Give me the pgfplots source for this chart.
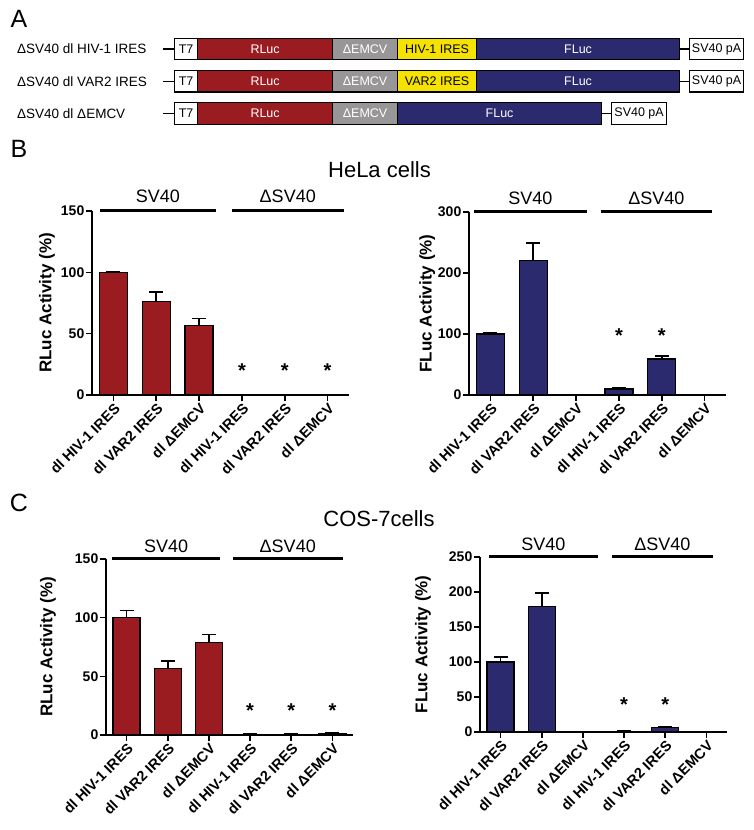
\documentclass[border=0pt]{standalone}
\usepackage{fontspec}
\setmainfont{Liberation Sans}
\usepackage{pgfplots}
\pgfplotsset{compat=1.18}
\definecolor{rl}{RGB}{155,28,32}
\definecolor{fl}{RGB}{43,42,110}
\definecolor{em}{RGB}{152,150,150}
\definecolor{ye}{RGB}{245,226,0}
\newcommand{\fs}[1]{\fontsize{#1}{#1}\selectfont}
\pgfplotsset{
  barax/.style={
    scale only axis, xmin=-0.5, xmax=5.5, ymin=0,
    axis x line=bottom, axis y line=left,
    axis line style={line width=1.6pt,-},
    every tick/.style={line width=1.6pt, black},
    tick align=outside, major tick length=6pt,
    xtick={0,...,5},
    xticklabels={dl HIV-1 IRES, dl VAR2 IRES, dl ΔEMCV, dl HIV-1 IRES, dl VAR2 IRES, dl ΔEMCV},
    xticklabel style={rotate=45, anchor=north east, font=\bfseries\fs{14.5}, inner sep=1pt},
    yticklabel style={font=\bfseries\fs{14}, inner sep=1.5pt},
    /pgf/number format/assume math mode=true,
    ybar, bar width=28pt,
    clip=false,
    error bars/y dir=plus, error bars/y explicit,
    error bars/error bar style={line width=1.6pt, black},
    error bars/error mark options={rotate=90, mark size=7pt, line width=1.6pt, black},
  },
  ylab/.style={ylabel style={at={(axis description cs:#1,0.5)}, rotate=0, anchor=center, font=\bfseries\fs{17}}},
}
\tikzset{
  box/.style={draw=black, line width=1.2pt, minimum height=21.5pt, inner sep=0pt, anchor=west, font=\fs{12.5}},
  grp/.style={line width=3pt},
  glab/.style={anchor=base, font=\fs{18}},
  ast/.style={font=\bfseries\fs{20}, anchor=center, yshift=-4pt},
}
\newcommand{\construct}[3]{%
  \node[anchor=west, font=\fs{13.5}, inner sep=0pt] at (17pt,#1pt) {#2};
  \draw[line width=1.2pt] (163pt,#1pt) -- (174pt,#1pt);
  \node[box, fill=white, minimum width=23pt] at (174pt,#1pt) {T7};
  \node[box, fill=rl, text=white, minimum width=135pt] at (197pt,#1pt) {RLuc};
  \node[box, fill=em, text=white, minimum width=65pt] at (332pt,#1pt) {ΔEMCV};
  \node[box, fill=ye, text=black, minimum width=79pt] at (397pt,#1pt) {#3};
  \node[box, fill=fl, text=white, minimum width=203pt] at (476pt,#1pt) {FLuc};
  \draw[line width=1.2pt] (679pt,#1pt) -- (689pt,#1pt);
  \node[box, fill=white, minimum width=54pt] at (689pt,#1pt) {SV40 pA};
}
\begin{document}
\begin{tikzpicture}
\useasboundingbox (0,0) rectangle (754pt,830pt);
% Panel letters and titles
\node[font=\fs{25}] at (19pt,811pt) {A};
\node[font=\fs{25}] at (19pt,681pt) {B};
\node[font=\fs{25}] at (19pt,327pt) {C};
\node[font=\fs{22}] at (379.5pt,660pt) {HeLa cells};
\node[font=\fs{22}] at (379pt,311pt) {COS-7cells};
% Panel A schematic
\construct{781}{ΔSV40 dl HIV-1 IRES}{HIV-1 IRES}
\construct{748.7}{ΔSV40 dl VAR2 IRES}{VAR2 IRES}
\node[anchor=west, font=\fs{13.5}, inner sep=0pt] at (17pt,716.4pt) {ΔSV40 dl ΔEMCV};
\draw[line width=1.2pt] (163pt,716.4pt) -- (174pt,716.4pt);
\node[box, fill=white, minimum width=23pt] at (174pt,716.4pt) {T7};
\node[box, fill=rl, text=white, minimum width=135pt] at (197pt,716.4pt) {RLuc};
\node[box, fill=em, text=white, minimum width=65pt] at (332pt,716.4pt) {ΔEMCV};
\node[box, fill=fl, text=white, minimum width=204pt] at (397pt,716.4pt) {FLuc};
\draw[line width=1.2pt] (601pt,716.4pt) -- (611pt,716.4pt);
\node[box, fill=white, minimum width=55pt] at (611pt,716.4pt) {SV40 pA};

% B left: RLuc HeLa
\begin{axis}[barax, at={(92pt,435pt)}, anchor=south west, width=257pt, height=184pt,
  ymax=150, ytick={0,50,100,150}, ylab=-0.175, ylabel={RLuc Activity (\%)}]
\addplot[fill=rl, draw=black, line width=1.3pt] table[x=x, y=y, y error=e] {
x y e
0 100 0.8
1 76.5 7.5
2 56.5 6
3 0.3 0
4 0.3 0
5 0.3 0
};
\draw[grp] (axis cs:-0.31,150) -- (axis cs:2.39,150);
\draw[grp] (axis cs:2.77,150) -- (axis cs:5.38,150);
\node[glab] at (axis cs:1.04,150) [yshift=8pt] {SV40};
\node[glab] at (axis cs:4.07,150) [yshift=8pt] {ΔSV40};
\node[ast] at (axis cs:3,23) {*};
\node[ast] at (axis cs:4,23) {*};
\node[ast] at (axis cs:5,23) {*};
\end{axis}

% B right: FLuc HeLa
\begin{axis}[barax, at={(469pt,435pt)}, anchor=south west, width=257pt, height=183pt,
  ymax=300, ytick={0,100,200,300}, ylab=-0.163, ylabel={FLuc Activity (\%)}]
\addplot[fill=fl, draw=black, line width=1.3pt] table[x=x, y=y, y error=e] {
x y e
0 100 1.5
1 220 29
2 1 0
3 10 1
4 59 5
5 0 0
};
\draw[grp] (axis cs:-0.38,300) -- (axis cs:2.25,300);
\draw[grp] (axis cs:2.58,300) -- (axis cs:5.17,300);
\node[glab] at (axis cs:0.935,300) [yshift=7pt] {SV40};
\node[glab] at (axis cs:3.875,300) [yshift=7pt] {ΔSV40};
\node[ast] at (axis cs:3,104) {*};
\node[ast] at (axis cs:4,104) {*};
\end{axis}

% C left: RLuc COS-7
\begin{axis}[barax, at={(106pt,95pt)}, anchor=south west, width=247pt, height=176pt,
  bar width=27pt, ymax=150, ytick={0,50,100,150}, ylab=-0.235, ylabel={RLuc Activity (\%)}]
\addplot[fill=rl, draw=black, line width=1.3pt] table[x=x, y=y, y error=e] {
x y e
0 100 6
1 56.5 6.5
2 78.6 7
3 0.5 0.3
4 0.5 0.3
5 1.2 0.5
};
\draw[grp] (axis cs:-0.35,150) -- (axis cs:2.27,150);
\draw[grp] (axis cs:2.58,150) -- (axis cs:5.25,150);
\node[glab] at (axis cs:0.96,150) [yshift=6.5pt] {SV40};
\node[glab] at (axis cs:3.915,150) [yshift=6.5pt] {ΔSV40};
\node[ast] at (axis cs:3,24) {*};
\node[ast] at (axis cs:4,24) {*};
\node[ast] at (axis cs:5,24) {*};
\end{axis}

% C right: FLuc COS-7
\begin{axis}[barax, at={(480pt,98pt)}, anchor=south west, width=247pt, height=175.3pt,
  bar width=27pt, ymax=250, ytick={0,50,100,150,200,250}, ylab=-0.231, ylabel={FLuc Activity (\%)}]
\addplot[fill=fl, draw=black, line width=1.3pt] table[x=x, y=y, y error=e] {
x y e
0 100 7
1 179 19
2 0.5 0
3 1 0.3
4 6 1.5
5 0 0
};
\draw[grp] (axis cs:-0.28,250) -- (axis cs:2.36,250);
\draw[grp] (axis cs:2.70,250) -- (axis cs:5.16,250);
\node[glab] at (axis cs:1.04,250) [yshift=6.5pt] {SV40};
\node[glab] at (axis cs:3.93,250) [yshift=6.5pt] {ΔSV40};
\node[ast] at (axis cs:3,45) {*};
\node[ast] at (axis cs:4,45) {*};
\end{axis}
\end{tikzpicture}
\end{document}
